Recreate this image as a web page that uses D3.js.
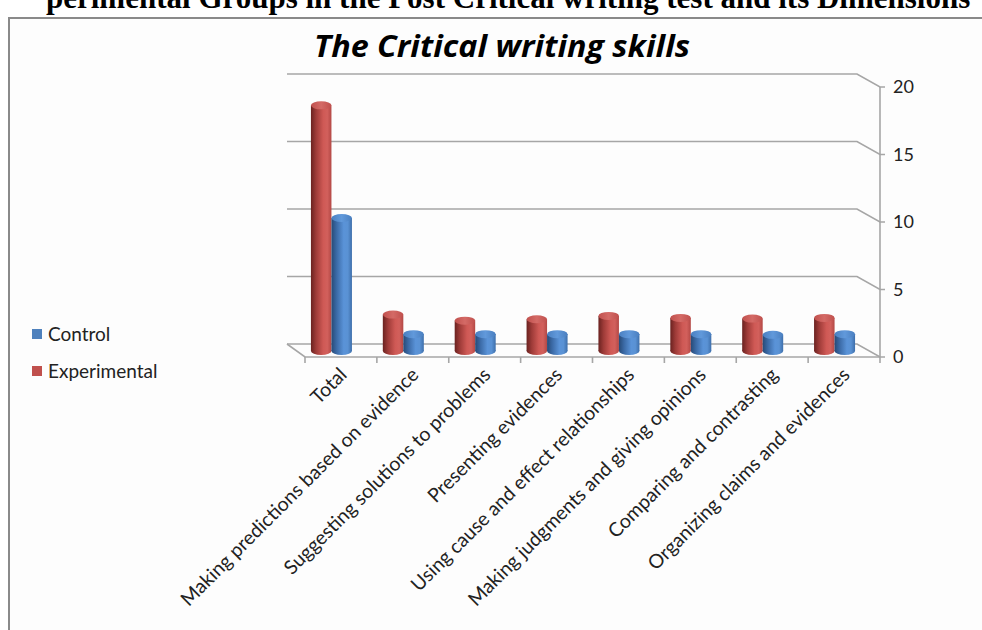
<!DOCTYPE html>
<html>
<head>
<meta charset="utf-8">
<script src="https://cdn.jsdelivr.net/npm/d3@7"></script>
<style>
  body { margin: 0; background: #fff; }
  svg { display: block; }
</style>
</head>
<body>
<div id="chart"></div>
<script>
const categories = ["Total",
    "Making predictions based on evidence",
    "Suggesting solutions to problems",
    "Presenting evidences",
    "Using cause and effect relationships",
    "Making judgments and giving opinions",
    "Comparing and contrasting",
    "Organizing claims and evidences"
]
const series = ["Experimental", "Control"]
const experimental = [18.2, 2.7, 2.25, 2.35, 2.6, 2.45, 2.4, 2.45]
const control = [9.85, 1.25, 1.25, 1.25, 1.25, 1.25, 1.2, 1.25]
const yTicks = [0, 5, 10, 15, 20]

const width = 982, height = 630;

const svg = d3.select("#chart").append("svg")
    .attr("width", width)
    .attr("height", height);

// heading line of the page above the chart, cut by the top edge
svg.append("text")
    .attr("x", 46)
    .attr("y", 8)
    .style("font-family", "Liberation Serif, serif")
    .style("font-weight", "bold")
    .style("font-size", "31px")
    .text("perimental Groups in the Post Critical writing test and its Dimensions");

// chart frame
svg.append("rect")
    .attr("x", 9).attr("y", 18)
    .attr("width", 1000).attr("height", 640)
    .attr("fill", "#fdfdfd")
    .attr("stroke", "#8a8a8a")
    .attr("stroke-width", 2);

svg.append("text")
    .attr("x", 502)
    .attr("y", 57)
    .attr("text-anchor", "middle")
    .attr("textLength", 376)
    .attr("lengthAdjust", "spacingAndGlyphs")
    .style("font-family", "Open Sans, sans-serif")
    .style("font-weight", "bold")
    .style("font-style", "italic")
    .style("font-size", "31px")
    .text("The Critical writing skills");

// 3d-ish geometry: back wall and front edge
const backX = [287, 857], frontX = [305, 880];
const yBack = d3.scaleLinear().domain([0, 20]).range([344, 74]);
const yFront = d3.scaleLinear().domain([0, 20]).range([357, 87]);
const yBar = d3.scaleLinear().domain([0, 20]).range([351, 81]);

const x = d3.scaleBand().domain(categories).range(frontX);
const xs = d3.scaleBand().domain(series).range([0, 41]);

const grid = svg.append("g").attr("fill", "none")
    .attr("stroke", "#a6a6a6").attr("stroke-width", 1.6);

yTicks.forEach(t => {
    grid.append("polyline")
        .attr("points", [[backX[0], yBack(t)], [backX[1], yBack(t)], [frontX[1], yFront(t)], [frontX[1] + 5, yFront(t)]].join(" "));
});
// floor
grid.append("polyline")
    .attr("points", [[backX[0], yBack(0)], [frontX[0], yFront(0)], [frontX[1], yFront(0)]].join(" "));
// right axis
grid.append("line")
    .attr("x1", frontX[1]).attr("x2", frontX[1])
    .attr("y1", yFront(20)).attr("y2", yFront(0));
// category ticks
categories.concat([null]).forEach(c => {
    const px = c === null ? frontX[1] : x(c);
    grid.append("line")
        .attr("x1", px).attr("x2", px)
        .attr("y1", yFront(0)).attr("y2", yFront(0) + 6);
});

svg.append("g")
    .selectAll("text")
    .data(yTicks)
    .join("text")
    .attr("x", 893)
    .attr("y", d => yFront(d))
    .attr("dy", "0.36em")
    .style("font-family", "Lato, sans-serif")
    .style("font-size", "18px")
    .attr("fill", "#222")
    .text(d => d);

// gradients for cylinders
const defs = svg.append("defs");
const palettes = {
    Experimental: { body: ["#6a2220", "#9e3b38", "#cf5955", "#d2605c", "#b34845"], top: ["#d46a66", "#c0504d"] },
    Control: { body: ["#274a77", "#3b6aa6", "#5a93d8", "#5a92d4", "#3e6fab"], top: ["#6199db", "#4a7fc0"] }
};
series.forEach(s => {
    const g = defs.append("linearGradient").attr("id", "body-" + s);
    const off = [0, 0.25, 0.6, 0.8, 1];
    palettes[s].body.forEach((c, i) => g.append("stop").attr("offset", off[i]).attr("stop-color", c));
    const t = defs.append("linearGradient").attr("id", "top-" + s);
    t.append("stop").attr("offset", 0).attr("stop-color", palettes[s].top[1]);
    t.append("stop").attr("offset", 0.5).attr("stop-color", palettes[s].top[0]);
    t.append("stop").attr("offset", 1).attr("stop-color", palettes[s].top[1]);
});

const rows = categories.map((c, i) => ({ cat: c, Experimental: experimental[i], Control: control[i] }));
const ry = 4;

const groups = svg.append("g")
    .selectAll("g")
    .data(rows)
    .join("g")
    .attr("transform", d => `translate(${x(d.cat) + x.bandwidth() / 2 - 30},0)`);

const cyl = groups.selectAll("g")
    .data(d => series.map(s => ({ s, v: d[s] })))
    .join("g");

cyl.append("ellipse")
    .attr("cx", d => xs(d.s) + xs.bandwidth() / 2)
    .attr("cy", yBar(0))
    .attr("rx", xs.bandwidth() / 2)
    .attr("ry", ry)
    .attr("fill", d => `url(#body-${d.s})`);
cyl.append("rect")
    .attr("x", d => xs(d.s))
    .attr("width", xs.bandwidth())
    .attr("y", d => yBar(d.v))
    .attr("height", d => yBar(0) - yBar(d.v))
    .attr("fill", d => `url(#body-${d.s})`);
cyl.append("ellipse")
    .attr("cx", d => xs(d.s) + xs.bandwidth() / 2)
    .attr("cy", d => yBar(d.v))
    .attr("rx", xs.bandwidth() / 2)
    .attr("ry", ry)
    .attr("fill", d => `url(#top-${d.s})`);

// category labels
svg.append("g")
    .selectAll("text")
    .data(categories)
    .join("text")
    .attr("transform", d => `translate(${x(d) + x.bandwidth() / 2 + 7},${yFront(0) + 19}) rotate(-45)`)
    .attr("text-anchor", "end")
    .style("font-family", "Lato, sans-serif")
    .style("font-size", "19.5px")
    .attr("fill", "#222")
    .text(d => d);

// legend
const legendData = [{ s: "Control", c: "#4f81bd" }, { s: "Experimental", c: "#c0504d" }];
const lg = svg.append("g")
    .selectAll("g")
    .data(legendData)
    .join("g")
    .attr("transform", (d, i) => `translate(32,${329 + i * 37})`);
lg.append("rect")
    .attr("width", 10).attr("height", 10)
    .attr("fill", d => d.c);
lg.append("text")
    .attr("x", 16).attr("y", 5)
    .attr("dy", "0.36em")
    .style("font-family", "Lato, sans-serif")
    .style("font-size", "19px")
    .attr("fill", "#222")
    .text(d => d.s);
</script>
</body>
</html>
